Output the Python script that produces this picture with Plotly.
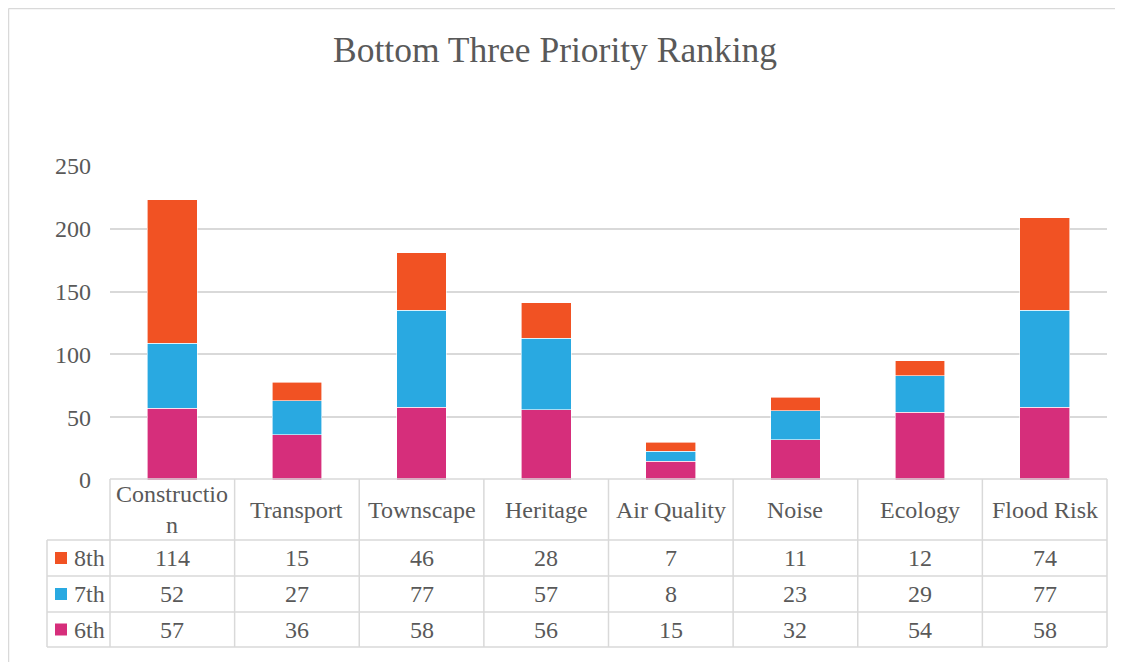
import plotly.graph_objects as go

# ---- data ----
categories = ["Construction", "Transport", "Townscape", "Heritage",
              "Air Quality", "Noise", "Ecology", "Flood Risk"]
category_labels = ["Constructio<br>n", "Transport", "Townscape", "Heritage",
                   "Air Quality", "Noise", "Ecology", "Flood Risk"]
sixth = [57, 36, 58, 56, 15, 32, 54, 58]
seventh = [52, 27, 77, 57, 8, 23, 29, 77]
eighth = [114, 15, 46, 28, 7, 11, 12, 74]
y_ticks = [0, 50, 100, 150, 200, 250]
title_text = "Bottom Three Priority Ranking"

# ---- style ----
C6 = "#D62E7B"
C7 = "#29A9E1"
C8 = "#F15223"
TXT = "#595959"
GRID = "#D9D9D9"
FONT = "Liberation Serif"

OFF = 8                 # page body margin
WR, HR = 1123, 662      # reference canvas
W, H = WR - OFF, HR - OFF
PX0, PX1 = 110, 1107    # plot area left/right (reference px)
PYB, PYT = 480, 166     # plot area bottom/top (reference px)


def px(x):
    return (x - PX0) / (PX1 - PX0)


def py(y):
    return (PYB - y) / (PYB - PYT)


fig = go.Figure()
series = [("6th", sixth, C6), ("7th", seventh, C7), ("8th", eighth, C8)]
for name, vals, col in series:
    fig.add_trace(go.Bar(
        x=categories, y=vals, name=name, marker_color=col,
        marker_line_color="white", marker_line_width=0.6,
        showlegend=False, hoverinfo="x+y+name"))

shapes = []
annotations = []
line = dict(color=GRID, width=1.5)

# chart outer border (top and left)
shapes.append(dict(type="line", xref="paper", yref="paper",
                   x0=px(8.5), x1=px(WR), y0=py(8.5), y1=py(8.5), line=line))
shapes.append(dict(type="line", xref="paper", yref="paper",
                   x0=px(8.5), x1=px(8.5), y0=py(8.5), y1=py(HR), line=line))

# data table geometry
n = len(categories)
col_w = (PX1 - PX0) / n
legend_left = 47
row_y = [479, 540, 576, 612, 647]  # header top, row boundaries

for yy in row_y[:1]:
    shapes.append(dict(type="line", xref="paper", yref="paper",
                       x0=px(PX0), x1=px(PX1), y0=py(yy), y1=py(yy), line=line))
for yy in row_y[1:]:
    shapes.append(dict(type="line", xref="paper", yref="paper",
                       x0=px(legend_left), x1=px(PX1), y0=py(yy), y1=py(yy), line=line))
for i in range(n + 1):
    xx = PX0 + i * col_w
    shapes.append(dict(type="line", xref="paper", yref="paper",
                       x0=px(xx), x1=px(xx), y0=py(row_y[0]), y1=py(row_y[-1]), line=line))
shapes.append(dict(type="line", xref="paper", yref="paper",
                   x0=px(legend_left), x1=px(legend_left), y0=py(row_y[1]), y1=py(row_y[-1]), line=line))

font = dict(family=FONT, size=24, color=TXT)

# header labels
hdr_c = (row_y[0] + row_y[1]) / 2
for i, lab in enumerate(category_labels):
    annotations.append(dict(xref="paper", yref="paper", x=px(PX0 + (i + 0.5) * col_w),
                            y=py(hdr_c), text=lab, showarrow=False, font=font,
                            xanchor="center", yanchor="middle"))

# data rows (8th, 7th, 6th top to bottom)
table_rows = [("8th", eighth, C8), ("7th", seventh, C7), ("6th", sixth, C6)]
for r, (name, vals, col) in enumerate(table_rows):
    yc = (row_y[r + 1] + row_y[r + 2]) / 2
    shapes.append(dict(type="rect", xref="paper", yref="paper",
                       x0=px(55), x1=px(67), y0=py(yc - 6), y1=py(yc + 6),
                       fillcolor=col, line=dict(width=0)))
    annotations.append(dict(xref="paper", yref="paper", x=px(72), y=py(yc),
                            text=name, showarrow=False, font=font,
                            xanchor="left", yanchor="middle"))
    for i, v in enumerate(vals):
        annotations.append(dict(xref="paper", yref="paper", x=px(PX0 + (i + 0.5) * col_w),
                                y=py(yc), text=str(v), showarrow=False, font=font,
                                xanchor="center", yanchor="middle"))

# title
annotations.append(dict(xref="paper", yref="paper", x=px(555), y=py(50),
                        text=title_text, showarrow=False,
                        font=dict(family=FONT, size=35.5, color=TXT),
                        xanchor="center", yanchor="middle"))

fig.update_layout(
    width=W, height=H,
    margin=dict(l=PX0 - OFF, r=WR - PX1, t=PYT - OFF, b=HR - PYB, pad=0),
    paper_bgcolor="white", plot_bgcolor="white",
    barmode="stack", bargap=0.6,
    shapes=shapes, annotations=annotations,
    xaxis=dict(showticklabels=False, showgrid=False, zeroline=False,
               showline=False, ticks="", range=[-0.5, n - 0.5]),
    yaxis=dict(range=[0, 250], tickvals=y_ticks, showgrid=True,
               gridcolor=GRID, gridwidth=1.5, zeroline=False, showline=False,
               ticks="", ticklabelstandoff=18,
               tickfont=dict(family=FONT, size=24, color=TXT)),
    font=dict(family=FONT, color=TXT),
)

fig.write_html("out.html")
